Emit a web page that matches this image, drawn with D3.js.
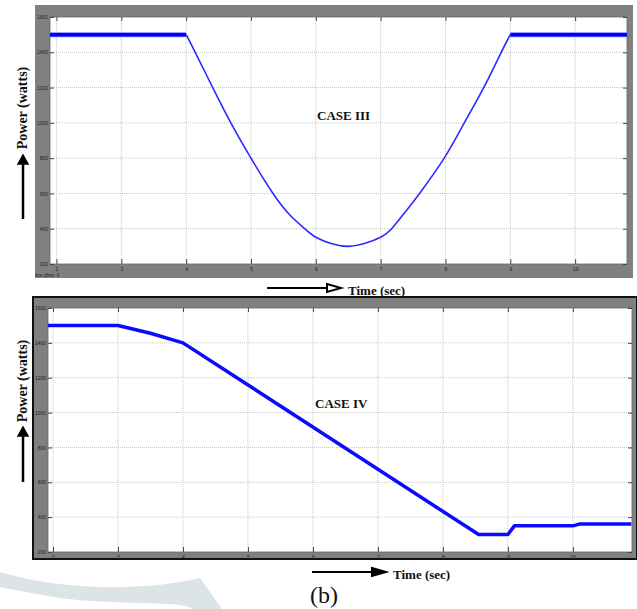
<!DOCTYPE html>
<html lang="en">
	<head>
		<meta charset="utf-8">
		<title>power cases</title>
		<script src="https://d3js.org/d3.v7.min.js"></script>
		<style type="text/css">
		body { margin: 0; background: white; }
		.tick text { font-family: sans-serif; font-size: 5px; fill: #222; }
		.lbl { font-family: "Liberation Serif", "DejaVu Serif", serif; font-weight: bold; fill: #111; }
		</style>
	</head>
	<body>
		<script type="text/javascript">

		//Data
		var timeTicks = [2, 3, 4, 5, 6, 7, 8, 9, 10];
		var powerTicks = [200, 400, 600, 800, 1000, 1200, 1400, 1600];

		var case3Time  = [1.9, 4.0, 4.14, 4.41, 4.69, 5.0, 5.34, 5.6, 5.83, 6.0, 6.25, 6.5, 6.75, 7.0, 7.17, 7.38, 7.6, 7.98, 8.29, 8.59, 8.86, 9.0, 10.8];
		var case3Power = [1500, 1500, 1400, 1200, 1000, 800, 600, 478, 400, 352, 315, 300, 316, 352, 400, 495, 600, 800, 1000, 1200, 1400, 1500, 1500];

		var case4Time  = [1.92, 3.0, 3.5, 4.0, 8.55, 9.0, 9.1, 10.0, 10.1, 10.9];
		var case4Power = [1500, 1500, 1455, 1400, 300, 300, 350, 350, 360, 360];

		var w = 637;
		var h = 609;

		var svg = d3.select("body")
			.append("svg")
			.attr("width", w)
			.attr("height", h);

		//watermark swoosh
		svg.append("path")
			.attr("d", "M0,572 C60,590 140,592 200,578 L222,609 L193,609 C180,600 120,606 60,598 C35,594 15,590 0,587 Z")
			.attr("fill", "#dde4e7");

		function panel(p) {
			var g = svg.append("g");

			g.append("rect")
				.attr("x", p.fx).attr("y", p.fy)
				.attr("width", p.fw).attr("height", p.fh)
				.attr("fill", "#808080")
				.attr("stroke", p.border ? "#111" : "none")
				.attr("stroke-width", 2);

			var x = d3.scaleLinear().domain(p.xdom).range([p.left, p.right]);
			var y = d3.scaleLinear().domain([200, 1600]).range([p.bottom, p.top]);

			g.append("rect")
				.attr("x", p.left).attr("y", p.top)
				.attr("width", p.right - p.left).attr("height", p.bottom - p.top)
				.attr("fill", "white")
				.attr("stroke", "#666")
				.attr("stroke-width", 0.8);

			//grid
			g.selectAll("line.gx")
				.data(timeTicks)
				.enter()
				.append("line")
				.attr("x1", function(d) { return x(d); })
				.attr("x2", function(d) { return x(d); })
				.attr("y1", p.top).attr("y2", p.bottom)
				.attr("stroke", "#c4c4c4")
				.attr("stroke-dasharray", "1,1");

			g.selectAll("line.gy")
				.data(powerTicks.slice(1, -1))
				.enter()
				.append("line")
				.attr("x1", p.left).attr("x2", p.right)
				.attr("y1", function(d) { return y(d); })
				.attr("y2", function(d) { return y(d); })
				.attr("stroke", "#c4c4c4")
				.attr("stroke-dasharray", "1,1");

			//axes, ticks pointing in
			g.append("g")
				.attr("transform", "translate(0," + p.bottom + ")")
				.call(d3.axisBottom(x).tickValues(timeTicks).tickSizeInner(-5).tickSizeOuter(0).tickPadding(3).tickFormat(d3.format("d")));
			g.append("g")
				.attr("transform", "translate(" + p.left + ",0)")
				.call(d3.axisLeft(y).tickValues(powerTicks).tickSizeInner(-4).tickSizeOuter(0).tickPadding(2).tickFormat(d3.format("d")));
			g.append("g")
				.attr("transform", "translate(0," + p.top + ")")
				.call(d3.axisTop(x).tickValues(timeTicks).tickSizeInner(-4).tickSizeOuter(0).tickFormat(""));
			g.append("g")
				.attr("transform", "translate(" + p.right + ",0)")
				.call(d3.axisRight(y).tickValues(powerTicks).tickSizeInner(-4).tickSizeOuter(0).tickFormat(""));
			g.selectAll(".domain").remove();
			g.selectAll(".tick line").attr("stroke", "#444");

			var pts = d3.zip(p.time, p.power);
			var line = d3.line()
				.x(function(d) { return x(d[0]); })
				.y(function(d) { return y(d[1]); });

			if (p.flat) {
				//smooth dip between 4 s and 9 s
				var mid = pts.filter(function(d) { return d[0] >= 4 && d[0] <= 9; });
				g.append("path")
					.datum(mid)
					.attr("fill", "none")
					.attr("stroke", p.color)
					.attr("stroke-width", p.width)
					.attr("d", line.curve(d3.curveNatural));
				line.curve(d3.curveLinear);

				//thick flat parts
				[pts.filter(function(d) { return d[0] <= 4; }),
				 pts.filter(function(d) { return d[0] >= 9; })].forEach(function(seg) {
					g.append("path")
						.datum(seg)
						.attr("fill", "none")
						.attr("stroke", "#8080ff")
						.attr("stroke-width", 5)
						.attr("d", line);
					g.append("path")
						.datum(seg)
						.attr("fill", "none")
						.attr("stroke", "#0000ff")
						.attr("stroke-width", 3.5)
						.attr("d", line);
				});
			} else {
				g.append("path")
					.datum(pts)
					.attr("fill", "none")
					.attr("stroke", p.color)
					.attr("stroke-width", p.width)
					.attr("stroke-linejoin", "round")
					.attr("d", line);
			}

			g.append("text")
				.attr("class", "lbl")
				.attr("x", p.caseX).attr("y", p.caseY)
				.attr("font-size", 13)
				.text(p.caseText);

			//y label + arrow
			g.append("text")
				.attr("class", "lbl")
				.attr("transform", "translate(" + 27 + "," + p.ylabY + ") rotate(-90)")
				.attr("text-anchor", "middle")
				.attr("font-size", 14)
				.text("Power (watts)");
			g.append("line")
				.attr("x1", 23).attr("x2", 23)
				.attr("y1", p.arrowY0).attr("y2", p.arrowY1 + 6)
				.attr("stroke", "black").attr("stroke-width", 2.5);
			g.append("path")
				.attr("d", "M" + 18 + "," + (p.arrowY1 + 9) + " L23," + p.arrowY1 + " L28," + (p.arrowY1 + 9) + " Z")
				.attr("fill", "black").attr("stroke", "black").attr("stroke-width", 1.5);

			//x label + arrow
			g.append("line")
				.attr("x1", p.tArrowX0).attr("x2", p.tArrowX1 - 8)
				.attr("y1", p.tArrowY).attr("y2", p.tArrowY)
				.attr("stroke", "black").attr("stroke-width", 2);
			g.append("path")
				.attr("d", "M" + (p.tArrowX1 - 14) + "," + (p.tArrowY - 4) + " L" + p.tArrowX1 + "," + p.tArrowY + " L" + (p.tArrowX1 - 14) + "," + (p.tArrowY + 4) + " Z")
				.attr("fill", p.hollow ? "white" : "black").attr("stroke", "black").attr("stroke-width", 2);
			g.append("text")
				.attr("class", "lbl")
				.attr("x", p.tArrowX1 + 7).attr("y", p.tArrowY + 7)
				.attr("font-size", 13)
				.text("Time (sec)");
		}

		panel({
			fx: 35, fy: 5, fw: 598, fh: 273, border: false,
			left: 50, right: 627, top: 17, bottom: 264,
			xdom: [1.9, 10.8],
			time: case3Time, power: case3Power,
			flat: true, color: "#2b2bff", width: 1.6,
			caseText: "CASE III", caseX: 317, caseY: 120,
			ylabY: 108, arrowY0: 219, arrowY1: 155,
			tArrowX0: 267, tArrowX1: 341, tArrowY: 288, hollow: true
		});

		svg.append("text")
			.attr("x", 35).attr("y", 277)
			.attr("font-family", "sans-serif")
			.attr("font-size", 4.5)
			.attr("fill", "#222")
			.text("line offset:  0");

		panel({
			fx: 33, fy: 297, fw: 604, fh: 262, border: true,
			left: 48, right: 632, top: 308, bottom: 552,
			xdom: [1.923, 10.91],
			time: case4Time, power: case4Power,
			flat: false, color: "#0a0aff", width: 3.5,
			caseText: "CASE IV", caseX: 315, caseY: 408,
			ylabY: 381, arrowY0: 482, arrowY1: 427,
			tArrowX0: 312, tArrowX1: 386, tArrowY: 572, hollow: false
		});

		svg.append("text")
			.attr("x", 324).attr("y", 603)
			.attr("text-anchor", "middle")
			.attr("font-family", "Liberation Serif, serif")
			.attr("font-size", 24)
			.attr("fill", "#111")
			.text("(b)");

		</script>
	</body>
</html>
